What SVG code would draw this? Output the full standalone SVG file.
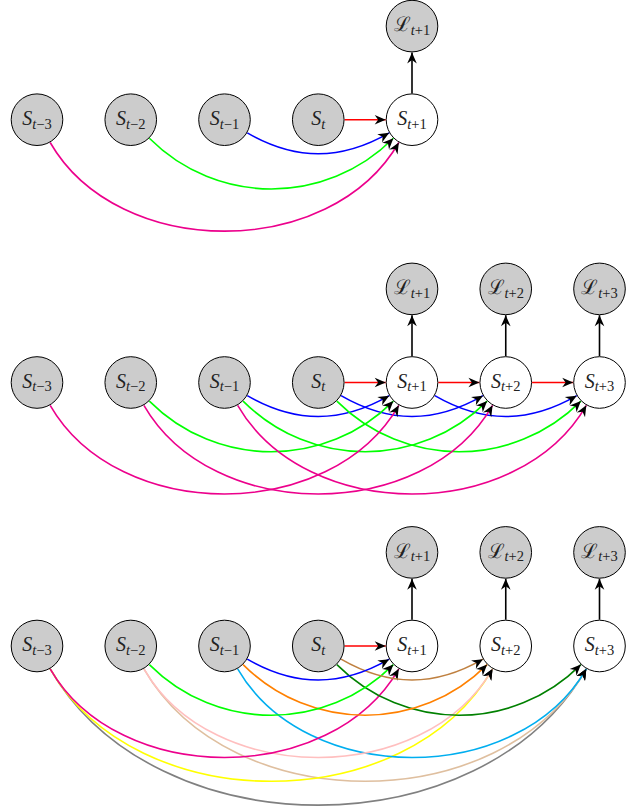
<svg xmlns="http://www.w3.org/2000/svg" width="634" height="811" viewBox="0 0 634 811">
  <defs>
    <style>
      .obs { fill: #cccccc; stroke: #000; stroke-width: 1; }
      .fut { fill: #ffffff; stroke: #000; stroke-width: 1; }
      .lbl { font-family: "Liberation Serif", "DejaVu Serif", serif; font-size: 20px; fill: #222; text-anchor: middle; }
      .v { font-style: italic; }
      .sub { font-size: 14.5px; }
      .si { font-style: italic; }
      .e { fill: none; stroke-width: 1.6; marker-end: url(#tip); }
      .k { stroke: #000; }
      .red { stroke: #ff0000; }
      .blue { stroke: #0000ff; }
      .green { stroke: #00ff00; }
      .mag { stroke: #ec008c; }
      .brown { stroke: #bf8040; }
      .orange { stroke: #ff8000; }
      .pink { stroke: #ffbfbf; }
      .yellow { stroke: #ffff00; }
      .dgreen { stroke: #008000; }
      .cyan { stroke: #00aeef; }
      .tan { stroke: #dfbf9f; }
      .gray { stroke: #808080; }
    </style>
    <marker id="tip" markerUnits="userSpaceOnUse" markerWidth="14" markerHeight="12" viewBox="-12 -6 13 12" refX="0" refY="0" orient="auto" overflow="visible">
      <path d="M0,0 L-11,-4.8 L-7.6,0 L-11,4.8 Z" fill="#000"/>
    </marker>
  </defs>

  <!-- ===== Panel 1: one-step prediction ===== -->
  <g id="panel1">
    <g id="p1-edges">
      <path class="e red" d="M344.55,119.7 H385.7"/>
      <path class="e k" d="M412,93.4 V52.4"/>
      <path class="e blue" d="M247.28,132.85 C295.40,160.64 341.10,160.64 389.22,132.85"/>
      <path class="e green" d="M149.35,138.30 C216.91,205.86 325.84,205.86 393.40,138.30"/>
      <path class="e mag" d="M50.15,142.48 C118.41,260.71 330.59,260.71 398.85,142.48"/>
    </g>
    <g id="p1-s-3"><circle class="obs" cx="37" cy="119.7" r="25.8"/><text class="lbl" x="37" y="125"><tspan class="v">S</tspan><tspan class="sub" dy="3.5"><tspan class="si">t</tspan>−3</tspan></text></g>
    <g id="p1-s-2"><circle class="obs" cx="130.75" cy="119.7" r="25.8"/><text class="lbl" x="130.75" y="125"><tspan class="v">S</tspan><tspan class="sub" dy="3.5"><tspan class="si">t</tspan>−2</tspan></text></g>
    <g id="p1-s-1"><circle class="obs" cx="224.5" cy="119.7" r="25.8"/><text class="lbl" x="224.5" y="125"><tspan class="v">S</tspan><tspan class="sub" dy="3.5"><tspan class="si">t</tspan>−1</tspan></text></g>
    <g id="p1-s0"><circle class="obs" cx="318.25" cy="119.7" r="25.8"/><text class="lbl" x="318.25" y="125"><tspan class="v">S</tspan><tspan class="sub si" dy="3.5">t</tspan></text></g>
    <g id="p1-s+1"><circle class="fut" cx="412" cy="119.7" r="25.8"/><text class="lbl" x="412" y="125"><tspan class="v">S</tspan><tspan class="sub" dy="3.5"><tspan class="si">t</tspan>+1</tspan></text></g>
    <g id="p1-l+1"><circle class="obs" cx="412" cy="26.1" r="25.8"/><text class="lbl" x="412" y="31.4">ℒ<tspan class="sub" dy="3.5"><tspan class="si">t</tspan>+1</tspan></text></g>
  </g>

  <!-- ===== Panel 2: rolled-out prediction, shared lags ===== -->
  <g id="panel2" transform="translate(0,262.8)">
    <g id="p2-edges">
      <path class="e red" d="M344.55,119.7 H385.7"/>
      <path class="e red" d="M438.3,119.7 H479.45"/>
      <path class="e red" d="M532.05,119.7 H573.2"/>
      <path class="e k" d="M412,93.4 V52.4"/>
      <path class="e k" d="M505.75,93.4 V52.4"/>
      <path class="e k" d="M599.5,93.4 V52.4"/>
      <path class="e blue" d="M247.28,132.85 C295.40,160.64 341.10,160.64 389.22,132.85"/>
      <path class="e blue" d="M341.03,132.85 C389.15,160.64 434.85,160.64 482.97,132.85"/>
      <path class="e blue" d="M434.78,132.85 C482.90,160.64 528.60,160.64 576.72,132.85"/>
      <path class="e green" d="M149.35,138.30 C216.91,205.86 325.84,205.86 393.40,138.30"/>
      <path class="e green" d="M243.10,138.30 C310.66,205.86 419.59,205.86 487.15,138.30"/>
      <path class="e green" d="M336.85,138.30 C404.41,205.86 513.34,205.86 580.90,138.30"/>
      <path class="e mag" d="M50.15,142.48 C118.41,260.71 330.59,260.71 398.85,142.48"/>
      <path class="e mag" d="M143.90,142.48 C212.16,260.71 424.34,260.71 492.60,142.48"/>
      <path class="e mag" d="M237.65,142.48 C305.91,260.71 518.09,260.71 586.35,142.48"/>
    </g>
    <g id="p2-s-3"><circle class="obs" cx="37" cy="119.7" r="25.8"/><text class="lbl" x="37" y="125"><tspan class="v">S</tspan><tspan class="sub" dy="3.5"><tspan class="si">t</tspan>−3</tspan></text></g>
    <g id="p2-s-2"><circle class="obs" cx="130.75" cy="119.7" r="25.8"/><text class="lbl" x="130.75" y="125"><tspan class="v">S</tspan><tspan class="sub" dy="3.5"><tspan class="si">t</tspan>−2</tspan></text></g>
    <g id="p2-s-1"><circle class="obs" cx="224.5" cy="119.7" r="25.8"/><text class="lbl" x="224.5" y="125"><tspan class="v">S</tspan><tspan class="sub" dy="3.5"><tspan class="si">t</tspan>−1</tspan></text></g>
    <g id="p2-s0"><circle class="obs" cx="318.25" cy="119.7" r="25.8"/><text class="lbl" x="318.25" y="125"><tspan class="v">S</tspan><tspan class="sub si" dy="3.5">t</tspan></text></g>
    <g id="p2-s+1"><circle class="fut" cx="412" cy="119.7" r="25.8"/><text class="lbl" x="412" y="125"><tspan class="v">S</tspan><tspan class="sub" dy="3.5"><tspan class="si">t</tspan>+1</tspan></text></g>
    <g id="p2-s+2"><circle class="fut" cx="505.75" cy="119.7" r="25.8"/><text class="lbl" x="505.75" y="125"><tspan class="v">S</tspan><tspan class="sub" dy="3.5"><tspan class="si">t</tspan>+2</tspan></text></g>
    <g id="p2-s+3"><circle class="fut" cx="599.5" cy="119.7" r="25.8"/><text class="lbl" x="599.5" y="125"><tspan class="v">S</tspan><tspan class="sub" dy="3.5"><tspan class="si">t</tspan>+3</tspan></text></g>
    <g id="p2-l+1"><circle class="obs" cx="412" cy="26.1" r="25.8"/><text class="lbl" x="412" y="31.4">ℒ<tspan class="sub" dy="3.5"><tspan class="si">t</tspan>+1</tspan></text></g>
    <g id="p2-l+2"><circle class="obs" cx="505.75" cy="26.1" r="25.8"/><text class="lbl" x="505.75" y="31.4">ℒ<tspan class="sub" dy="3.5"><tspan class="si">t</tspan>+2</tspan></text></g>
    <g id="p2-l+3"><circle class="obs" cx="599.5" cy="26.1" r="25.8"/><text class="lbl" x="599.5" y="31.4">ℒ<tspan class="sub" dy="3.5"><tspan class="si">t</tspan>+3</tspan></text></g>
  </g>

  <!-- ===== Panel 3: direct multi-step prediction ===== -->
  <g id="panel3" transform="translate(0,526.3)">
    <g id="p3-edges">
      <path class="e red" d="M344.55,119.7 H385.7"/>
      <path class="e k" d="M412,93.4 V52.4"/>
      <path class="e k" d="M505.75,93.4 V52.4"/>
      <path class="e k" d="M599.5,93.4 V52.4"/>
      <path class="e gray" d="M50.15,142.48 C155.11,324.27 481.39,324.27 586.35,142.48"/>
      <path class="e tan" d="M143.90,142.48 C230.51,292.49 499.74,292.49 586.35,142.48"/>
      <path class="e yellow" d="M50.15,142.48 C136.76,292.49 405.99,292.49 492.60,142.48"/>
      <path class="e cyan" d="M237.65,142.48 C305.91,260.71 518.09,260.71 586.35,142.48"/>
      <path class="e pink" d="M143.90,142.48 C212.16,260.71 424.34,260.71 492.60,142.48"/>
      <path class="e mag" d="M50.15,142.48 C118.41,260.71 330.59,260.71 398.85,142.48"/>
      <path class="e dgreen" d="M336.85,138.30 C404.41,205.86 513.34,205.86 580.90,138.30"/>
      <path class="e orange" d="M243.10,138.30 C310.66,205.86 419.59,205.86 487.15,138.30"/>
      <path class="e green" d="M149.35,138.30 C216.91,205.86 325.84,205.86 393.40,138.30"/>
      <path class="e brown" d="M341.03,132.85 C389.15,160.64 434.85,160.64 482.97,132.85"/>
      <path class="e blue" d="M247.28,132.85 C295.40,160.64 341.10,160.64 389.22,132.85"/>
    </g>
    <g id="p3-s-3"><circle class="obs" cx="37" cy="119.7" r="25.8"/><text class="lbl" x="37" y="125"><tspan class="v">S</tspan><tspan class="sub" dy="3.5"><tspan class="si">t</tspan>−3</tspan></text></g>
    <g id="p3-s-2"><circle class="obs" cx="130.75" cy="119.7" r="25.8"/><text class="lbl" x="130.75" y="125"><tspan class="v">S</tspan><tspan class="sub" dy="3.5"><tspan class="si">t</tspan>−2</tspan></text></g>
    <g id="p3-s-1"><circle class="obs" cx="224.5" cy="119.7" r="25.8"/><text class="lbl" x="224.5" y="125"><tspan class="v">S</tspan><tspan class="sub" dy="3.5"><tspan class="si">t</tspan>−1</tspan></text></g>
    <g id="p3-s0"><circle class="obs" cx="318.25" cy="119.7" r="25.8"/><text class="lbl" x="318.25" y="125"><tspan class="v">S</tspan><tspan class="sub si" dy="3.5">t</tspan></text></g>
    <g id="p3-s+1"><circle class="fut" cx="412" cy="119.7" r="25.8"/><text class="lbl" x="412" y="125"><tspan class="v">S</tspan><tspan class="sub" dy="3.5"><tspan class="si">t</tspan>+1</tspan></text></g>
    <g id="p3-s+2"><circle class="fut" cx="505.75" cy="119.7" r="25.8"/><text class="lbl" x="505.75" y="125"><tspan class="v">S</tspan><tspan class="sub" dy="3.5"><tspan class="si">t</tspan>+2</tspan></text></g>
    <g id="p3-s+3"><circle class="fut" cx="599.5" cy="119.7" r="25.8"/><text class="lbl" x="599.5" y="125"><tspan class="v">S</tspan><tspan class="sub" dy="3.5"><tspan class="si">t</tspan>+3</tspan></text></g>
    <g id="p3-l+1"><circle class="obs" cx="412" cy="26.1" r="25.8"/><text class="lbl" x="412" y="31.4">ℒ<tspan class="sub" dy="3.5"><tspan class="si">t</tspan>+1</tspan></text></g>
    <g id="p3-l+2"><circle class="obs" cx="505.75" cy="26.1" r="25.8"/><text class="lbl" x="505.75" y="31.4">ℒ<tspan class="sub" dy="3.5"><tspan class="si">t</tspan>+2</tspan></text></g>
    <g id="p3-l+3"><circle class="obs" cx="599.5" cy="26.1" r="25.8"/><text class="lbl" x="599.5" y="31.4">ℒ<tspan class="sub" dy="3.5"><tspan class="si">t</tspan>+3</tspan></text></g>
  </g>
</svg>
